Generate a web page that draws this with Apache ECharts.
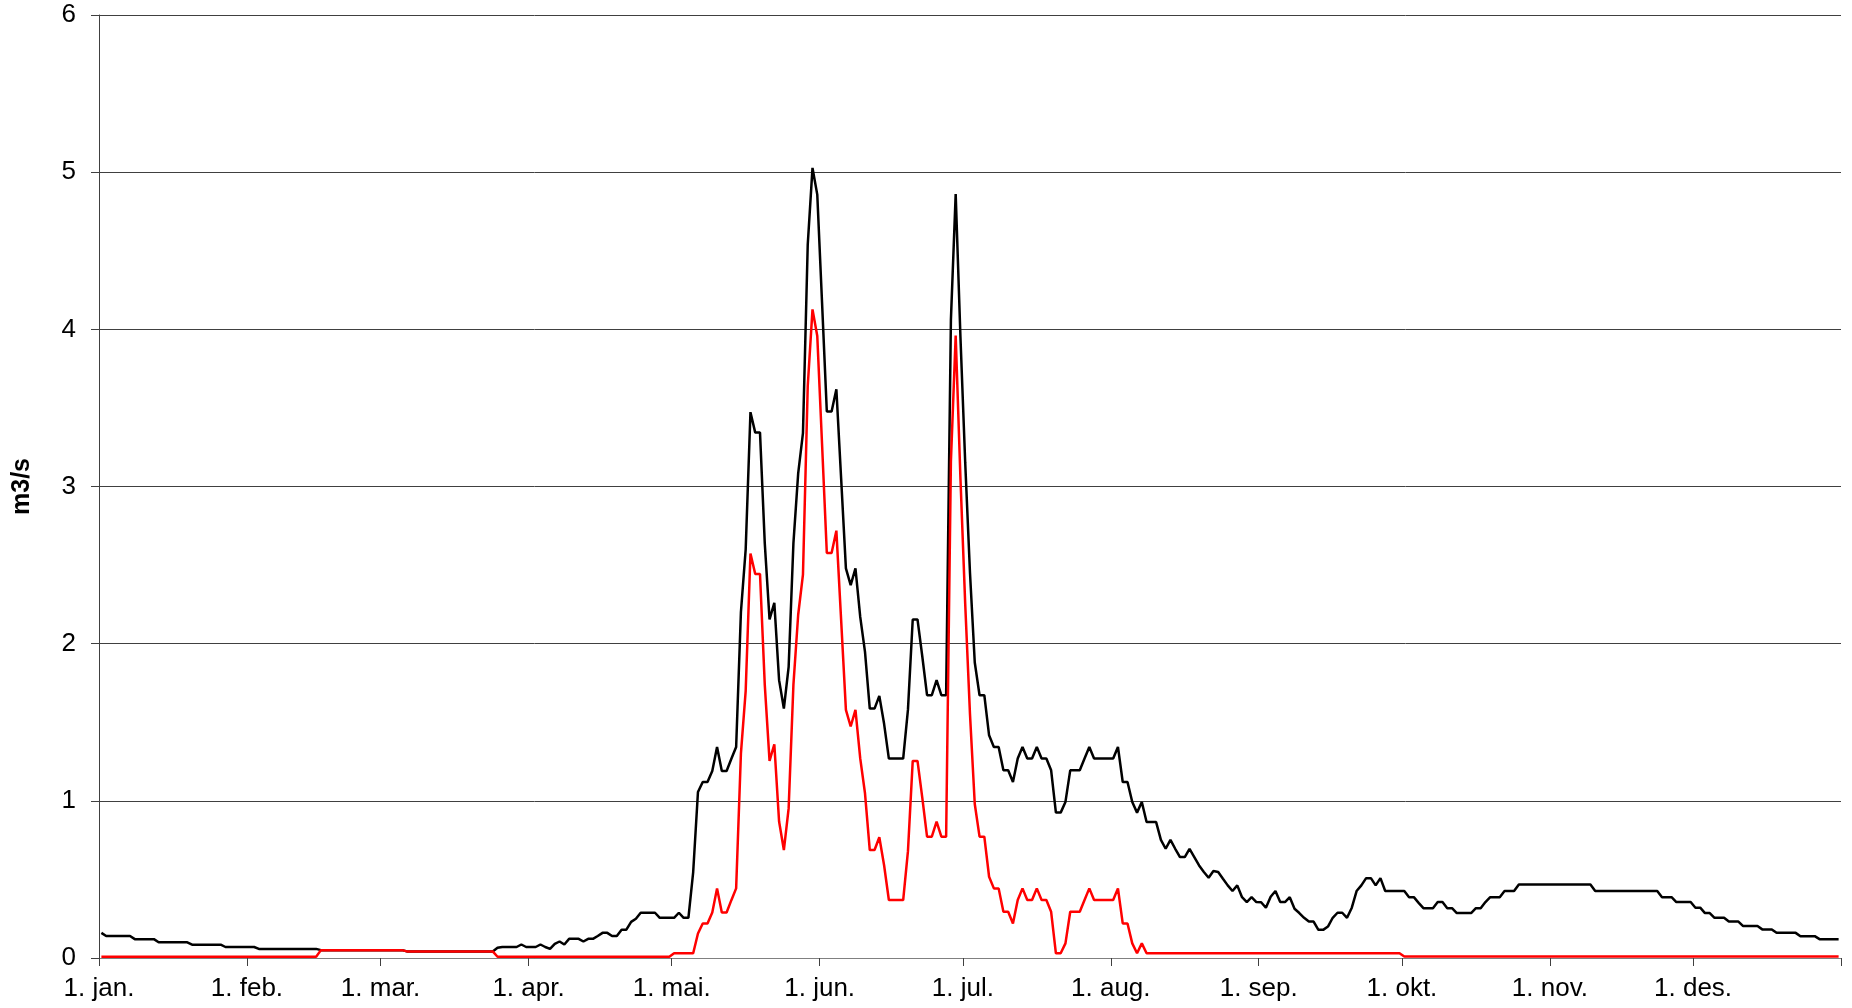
<!DOCTYPE html>
<html>
<head>
<meta charset="utf-8">
<title>Vannføring</title>
<script src="https://cdn.jsdelivr.net/npm/echarts@6/dist/echarts.min.js"></script>
<style>
  html, body { margin: 0; padding: 0; background: #fff; }
  #chart { width: 1852px; height: 1008px; }
</style>
</head>
<body>
<div id="chart"></div>
<script>
// Daily discharge (m3/s), one value per day of the year, listed month by month.
const totalFlow = [
  // jan
  0.16, 0.14, 0.14, 0.14, 0.14, 0.14, 0.14, 0.12, 0.12, 0.12, 0.12, 0.12, 0.10, 0.10, 0.10, 0.10,
  0.10, 0.10, 0.10, 0.085, 0.085, 0.085, 0.085, 0.085, 0.085, 0.085, 0.07, 0.07, 0.07, 0.07, 0.07,
  // feb
  0.07, 0.07, 0.058, 0.058, 0.058, 0.058, 0.058, 0.058, 0.058, 0.058, 0.058, 0.058, 0.058, 0.058,
  0.058, 0.05, 0.05, 0.05, 0.05, 0.05, 0.05, 0.05, 0.05, 0.05, 0.05, 0.05, 0.05, 0.05,
  // mar
  0.05, 0.05, 0.05, 0.05, 0.05, 0.042, 0.042, 0.042, 0.042, 0.042, 0.042, 0.042, 0.042, 0.042,
  0.042, 0.042, 0.042, 0.042, 0.042, 0.042, 0.042, 0.042, 0.042, 0.042, 0.065, 0.07, 0.07, 0.07,
  0.07, 0.086, 0.07,
  // apr
  0.07, 0.07, 0.086, 0.07, 0.058, 0.09, 0.105, 0.086, 0.122, 0.122, 0.122, 0.105, 0.122, 0.122,
  0.14, 0.16, 0.16, 0.14, 0.14, 0.18, 0.18, 0.23, 0.25, 0.288, 0.288, 0.288, 0.288, 0.256, 0.256,
  0.256,
  // mai
  0.256, 0.288, 0.256, 0.256, 0.547, 1.056, 1.12, 1.12, 1.19, 1.343, 1.19, 1.19, 1.268, 1.343,
  2.2, 2.6, 3.473, 3.343, 3.343, 2.638, 2.154, 2.26, 1.768, 1.587, 1.852, 2.638, 3.084, 3.339,
  4.538, 5.027, 4.857,
  // jun
  4.17, 3.477, 3.477, 3.619, 3.05, 2.479, 2.373, 2.479, 2.17, 1.948, 1.587, 1.587, 1.668, 1.49,
  1.269, 1.269, 1.269, 1.269, 1.58, 2.154, 2.154, 1.92, 1.672, 1.672, 1.768, 1.672, 1.672, 4.06,
  4.861, 3.95,
  // jul
  3.15, 2.45, 1.88, 1.672, 1.672, 1.417, 1.343, 1.343, 1.194, 1.194, 1.12, 1.269, 1.343, 1.269,
  1.269, 1.343, 1.269, 1.269, 1.194, 0.925, 0.925, 0.993, 1.194, 1.194, 1.194, 1.269, 1.343, 1.269,
  1.269, 1.269, 1.269,
  // aug
  1.269, 1.343, 1.12, 1.12, 0.993, 0.925, 0.993, 0.865, 0.865, 0.865, 0.752, 0.695, 0.752, 0.695,
  0.642, 0.642, 0.695, 0.642, 0.589, 0.547, 0.511, 0.553, 0.547, 0.504, 0.462, 0.426, 0.462, 0.387,
  0.356, 0.387, 0.356,
  // sep
  0.355, 0.32, 0.39, 0.426, 0.356, 0.356, 0.387, 0.313, 0.286, 0.256, 0.232, 0.232, 0.179, 0.179,
  0.2, 0.256, 0.288, 0.288, 0.256, 0.32, 0.426, 0.462, 0.508, 0.508, 0.462, 0.508, 0.426, 0.426,
  0.426, 0.426,
  // okt
  0.426, 0.387, 0.387, 0.351, 0.317, 0.317, 0.317, 0.356, 0.356, 0.317, 0.317, 0.286, 0.286, 0.286,
  0.286, 0.317, 0.317, 0.356, 0.387, 0.387, 0.387, 0.426, 0.426, 0.426, 0.468, 0.468, 0.468, 0.468,
  0.468, 0.468, 0.468,
  // nov
  0.468, 0.468, 0.468, 0.468, 0.468, 0.468, 0.468, 0.468, 0.468, 0.426, 0.426, 0.426, 0.426, 0.426,
  0.426, 0.426, 0.426, 0.426, 0.426, 0.426, 0.426, 0.426, 0.426, 0.387, 0.387, 0.387, 0.356, 0.356,
  0.356, 0.356,
  // des
  0.32, 0.32, 0.286, 0.286, 0.256, 0.256, 0.256, 0.232, 0.232, 0.232, 0.203, 0.203, 0.203, 0.203,
  0.182, 0.182, 0.182, 0.16, 0.16, 0.16, 0.16, 0.16, 0.139, 0.139, 0.139, 0.139, 0.12, 0.12, 0.12,
  0.12, 0.12
];

const excessFlow = [
  // jan
  0.008, 0.008, 0.008, 0.008, 0.008, 0.008, 0.008, 0.008, 0.008, 0.008, 0.008, 0.008, 0.008, 0.008,
  0.008, 0.008, 0.008, 0.008, 0.008, 0.008, 0.008, 0.008, 0.008, 0.008, 0.008, 0.008, 0.008, 0.008,
  0.008, 0.008, 0.008,
  // feb
  0.008, 0.008, 0.008, 0.008, 0.008, 0.008, 0.008, 0.008, 0.008, 0.008, 0.008, 0.008, 0.008, 0.008,
  0.008, 0.05, 0.05, 0.05, 0.05, 0.05, 0.05, 0.05, 0.05, 0.05, 0.05, 0.05, 0.05, 0.05,
  // mar
  0.05, 0.05, 0.05, 0.05, 0.05, 0.042, 0.042, 0.042, 0.042, 0.042, 0.042, 0.042, 0.042, 0.042,
  0.042, 0.042, 0.042, 0.042, 0.042, 0.042, 0.042, 0.042, 0.042, 0.042, 0.008, 0.008, 0.008, 0.008,
  0.008, 0.008, 0.008,
  // apr
  0.008, 0.008, 0.008, 0.008, 0.008, 0.008, 0.008, 0.008, 0.008, 0.008, 0.008, 0.008, 0.008, 0.008,
  0.008, 0.008, 0.008, 0.008, 0.008, 0.008, 0.008, 0.008, 0.008, 0.008, 0.008, 0.008, 0.008, 0.008,
  0.008, 0.008,
  // mai
  0.03, 0.03, 0.03, 0.03, 0.03, 0.156, 0.22, 0.22, 0.29, 0.443, 0.29, 0.29, 0.368, 0.443,
  1.3, 1.7, 2.573, 2.443, 2.443, 1.738, 1.254, 1.36, 0.868, 0.687, 0.952, 1.738, 2.184, 2.439,
  3.638, 4.127, 3.957,
  // jun
  3.27, 2.577, 2.577, 2.719, 2.15, 1.579, 1.473, 1.579, 1.27, 1.048, 0.687, 0.687, 0.768, 0.59,
  0.369, 0.369, 0.369, 0.369, 0.68, 1.254, 1.254, 1.02, 0.772, 0.772, 0.868, 0.772, 0.772, 3.16,
  3.961, 3.05,
  // jul
  2.25, 1.55, 0.98, 0.772, 0.772, 0.517, 0.443, 0.443, 0.294, 0.294, 0.22, 0.369, 0.443, 0.369,
  0.369, 0.443, 0.369, 0.369, 0.294, 0.03, 0.03, 0.093, 0.294, 0.294, 0.294, 0.369, 0.443, 0.369,
  0.369, 0.369, 0.369,
  // aug
  0.369, 0.443, 0.22, 0.22, 0.093, 0.03, 0.093, 0.03, 0.03, 0.03, 0.03, 0.03, 0.03, 0.03,
  0.03, 0.03, 0.03, 0.03, 0.03, 0.03, 0.03, 0.03, 0.03, 0.03, 0.03, 0.03, 0.03, 0.03,
  0.03, 0.03, 0.03,
  // sep
  0.03, 0.03, 0.03, 0.03, 0.03, 0.03, 0.03, 0.03, 0.03, 0.03, 0.03, 0.03, 0.03, 0.03,
  0.03, 0.03, 0.03, 0.03, 0.03, 0.03, 0.03, 0.03, 0.03, 0.03, 0.03, 0.03, 0.03, 0.03,
  0.03, 0.03,
  // okt
  0.01, 0.01, 0.01, 0.01, 0.01, 0.01, 0.01, 0.01, 0.01, 0.01, 0.01, 0.01, 0.01, 0.01,
  0.01, 0.01, 0.01, 0.01, 0.01, 0.01, 0.01, 0.01, 0.01, 0.01, 0.01, 0.01, 0.01, 0.01,
  0.01, 0.01, 0.01,
  // nov
  0.01, 0.01, 0.01, 0.01, 0.01, 0.01, 0.01, 0.01, 0.01, 0.01, 0.01, 0.01, 0.01, 0.01,
  0.01, 0.01, 0.01, 0.01, 0.01, 0.01, 0.01, 0.01, 0.01, 0.01, 0.01, 0.01, 0.01, 0.01,
  0.01, 0.01,
  // des
  0.01, 0.01, 0.01, 0.01, 0.01, 0.01, 0.01, 0.01, 0.01, 0.01, 0.01, 0.01, 0.01, 0.01,
  0.01, 0.01, 0.01, 0.01, 0.01, 0.01, 0.01, 0.01, 0.01, 0.01, 0.01, 0.01, 0.01, 0.01,
  0.01, 0.01, 0.01
];

// Month boundaries (day of year) and their tick labels.
const monthStartDays = [0, 31, 59, 90, 120, 151, 181, 212, 243, 273, 304, 334];
const monthLabels = ['1. jan.', '1. feb.', '1. mar.', '1. apr.', '1. mai.', '1. jun.',
                     '1. jul.', '1. aug.', '1. sep.', '1. okt.', '1. nov.', '1. des.'];
const daysInYear = 365;
const yTicks = [0, 1, 2, 3, 4, 5, 6];

// Each daily value sits in the middle of its day.
const toPoints = arr => arr.map((v, i) => [i + 0.5, v]);

const FONT = '"Liberation Sans", Arial, sans-serif';

const chart = echarts.init(document.getElementById('chart'), null, { renderer: 'canvas' });
chart.setOption({
  animation: false,
  backgroundColor: '#ffffff',
  grid: { left: 99, right: 11, top: 15, bottom: 50, containLabel: false, outerBoundsMode: 'none' },
  xAxis: {
    type: 'value',
    min: 0,
    max: daysInYear,
    axisLine: { show: true, onZero: false, lineStyle: { color: '#808080', width: 1 } },
    axisTick: {
      show: true, inside: false, length: 8,
      customValues: monthStartDays.concat([daysInYear]),
      lineStyle: { color: '#404040', width: 1 }
    },
    axisLabel: {
      customValues: monthStartDays,
      formatter: v => monthLabels[monthStartDays.indexOf(v)],
      color: '#000', fontSize: 26, fontFamily: FONT, margin: 18
    },
    splitLine: { show: false }
  },
  yAxis: {
    type: 'value',
    min: yTicks[0],
    max: yTicks[yTicks.length - 1],
    interval: 1,
    name: 'm3/s',
    nameLocation: 'middle',
    nameGap: 64,
    nameTextStyle: { color: '#000', fontSize: 25, fontWeight: 'bold', fontFamily: FONT },
    axisLine: { show: true, lineStyle: { color: '#404040', width: 1 } },
    axisTick: { show: true, inside: false, length: 8, lineStyle: { color: '#404040', width: 1 } },
    axisLabel: { color: '#000', fontSize: 26, fontFamily: FONT, margin: 23, align: 'right', inside: false },
    splitLine: { show: true, lineStyle: { color: '#404040', width: 1 } }
  },
  series: [
    {
      name: 'total',
      type: 'line',
      data: toPoints(totalFlow),
      showSymbol: false,
      lineStyle: { color: '#000000', width: 2.5 },
      itemStyle: { color: '#000000' },
      z: 2
    },
    {
      name: 'excess',
      type: 'line',
      data: toPoints(excessFlow),
      showSymbol: false,
      lineStyle: { color: '#ff0000', width: 2.5 },
      itemStyle: { color: '#ff0000' },
      z: 3
    }
  ]
});
</script>
</body>
</html>
